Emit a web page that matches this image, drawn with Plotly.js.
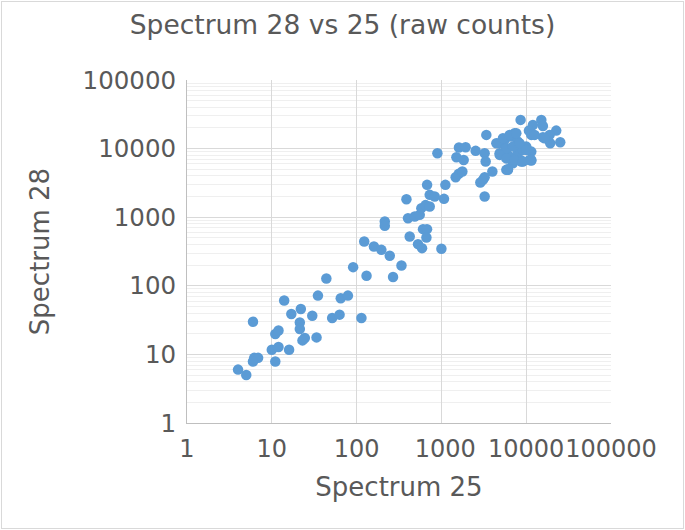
<!DOCTYPE html>
<html>
<head>
<meta charset="utf-8">
<script src="https://cdn.plot.ly/plotly-3.0.1.min.js"></script>
<style>
html,body{margin:0;padding:0;background:#fff;}
#wrap{position:relative;width:685px;height:530px;}
#chart{width:685px;height:530px;}
#frame{position:absolute;left:1px;top:1px;width:683px;height:528px;box-sizing:border-box;border:1px solid #d9d9d9;pointer-events:none;}
</style>
</head>
<body>
<div id="wrap"><div id="chart"></div><div id="frame"></div></div>
<script>
// Spectrum 25 (x) vs Spectrum 28 (y), raw counts
const spectrum25 = [
  4, 5, 6, 6.2, 6.9, 6, 11, 10, 12, 16,
  11, 12, 14, 17, 22, 21.4, 21.4, 24.5, 23, 33.7,
  30, 35, 44, 51.5, 63, 65, 79, 114, 91, 123,
  131, 160, 196, 246, 269, 338, 215, 215, 387, 404,
  423, 485, 555, 580, 650, 728, 607, 677, 666, 530,
  591, 1000, 678, 728, 834, 1073, 1114, 897, 1473, 1600,
  1766, 1611, 1932, 1503, 1832, 2535, 3388, 3236, 3327, 2878,
  3236, 3990, 3236, 6093, 8750, 11480, 8590, 12000, 15070, 15740,
  10770, 11480, 22600, 25200, 19200, 15740, 12560, 18880, 16480, 4864,
  5565, 6668, 7295, 7985, 5830, 4864, 6370, 7985, 9140, 10020,
  11480, 10970, 8750, 6970, 5830, 3090, 4446, 5320, 6370, 7640,
  5830, 6970, 8360, 10020, 4864, 5830, 7295, 9140, 6090, 11480
];
const spectrum28 = [
  6, 5, 30, 8.9, 8.9, 7.9, 7.9, 11.7, 12.8, 11.7,
  19.8, 22.3, 61, 38.7, 46, 29.2, 23.4, 17.3, 16, 17.7,
  36.6, 72, 128, 34, 38, 66, 72, 34, 187, 442,
  140, 374, 334, 274, 134, 198, 864, 748, 1830, 968,
  523, 1021, 1082, 1355, 1500, 1429, 670, 670, 505, 405,
  354, 346, 2960, 2118, 2000, 1850, 2960, 8570, 3832, 4283,
  4628, 10350, 10460, 7500, 6840, 9270, 15850, 8570, 6470, 3200,
  3832, 4628, 2000, 5012, 6680, 6680, 26200, 22100, 26200, 21400,
  18300, 15850, 18300, 12400, 12000, 14650, 15850, 15850, 14170, 12000,
  13400, 14960, 16760, 12650, 9570, 8570, 7660, 8570, 9570, 10690,
  9040, 6840, 6470, 6120, 4900, 3500, 12000, 14170, 15850, 16760,
  10100, 10690, 12000, 9570, 8100, 7200, 6840, 6470, 4900, 6840
];
const tickValues = [1, 10, 100, 1000, 10000, 100000];
const yTickLabels = ["1", "10", "100", "1000", "10000", "100000"];
const xTickLabels = ["1", "10", "100", "\u00a01000", "10000", "100000"];
const minorValues = [];
for (let d = 1; d < 100000; d *= 10) { for (let k = 2; k <= 9; k++) minorValues.push(d * k); }

const font = {family: "DejaVu Sans", color: "#595959"};
const trace = {
  x: spectrum25, y: spectrum28, type: "scatter", mode: "markers",
  marker: {color: "#5B9BD5", size: 10.5, line: {width: 0}},
  hoverinfo: "x+y", cliponaxis: false
};
const layout = {
  width: 685, height: 530,
  margin: {l: 187, r: 74, t: 80, b: 107},
  paper_bgcolor: "#ffffff", plot_bgcolor: "#ffffff",
  font: Object.assign({size: 24}, font),
  showlegend: false,
  title: {text: "Spectrum 28 vs 25 (raw counts)", font: Object.assign({size: 26.5}, font),
          x: 0.5, xanchor: "center", y: 0.953, yanchor: "middle"},
  xaxis: {
    type: "log", range: [0, 5], tickmode: "array", tickvals: tickValues, ticktext: xTickLabels,
    tickangle: 0, automargin: false,
    showgrid: true, gridcolor: "#d9d9d9", gridwidth: 1,
    showline: true, linecolor: "#bfbfbf", linewidth: 1, mirror: false,
    zeroline: false, ticks: "", tickfont: Object.assign({size: 24}, font), ticklabelstandoff: 4,
    title: {text: "Spectrum 25", font: Object.assign({size: 26}, font), standoff: 16}
  },
  yaxis: {
    type: "log", range: [0, 5], tickmode: "array", tickvals: tickValues, ticktext: yTickLabels,
    automargin: false,
    showgrid: true, gridcolor: "#d9d9d9", gridwidth: 1,
    showline: true, linecolor: "#bfbfbf", linewidth: 1,
    zeroline: false, ticks: "", tickfont: Object.assign({size: 24.5}, font), ticklabelstandoff: 5,
    minor: {tickmode: "array", tickvals: minorValues, showgrid: true, gridcolor: "#efefef", gridwidth: 1, ticks: ""},
    title: {text: "Spectrum 28", font: Object.assign({size: 26}, font), standoff: 25}
  }
};
Plotly.newPlot("chart", [trace], layout, {displayModeBar: false, staticPlot: true});
</script>
</body>
</html>
